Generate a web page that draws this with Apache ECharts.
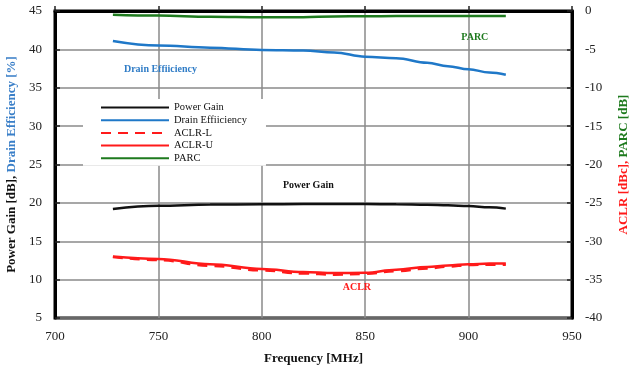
<!DOCTYPE html>
<html><head><meta charset="utf-8">
<script src="https://cdn.jsdelivr.net/npm/echarts@6/dist/echarts.min.js"></script>
<style>html,body{margin:0;padding:0;background:#fff}#c{width:630px;height:369px}</style>
</head><body><div id="c"></div>
<script>
const freq = [728, 750, 775, 800, 820, 835, 850, 865, 880, 890, 900, 910, 918];
const powerGain = [19.2, 19.62, 19.78, 19.82, 19.84, 19.85, 19.85, 19.82, 19.75, 19.68, 19.58, 19.42, 19.25];
const drainEff = [41.1, 40.5, 40.22, 39.92, 39.85, 39.6, 39.05, 38.85, 38.25, 37.8, 37.4, 37.0, 36.7];
const aclrL = [-32.05, -32.45, -33.2, -33.8, -34.2, -34.35, -34.25, -33.9, -33.55, -33.3, -33.1, -33.05, -33.05];
const aclrU = [-32.0, -32.3, -33.0, -33.6, -34.0, -34.15, -34.1, -33.7, -33.35, -33.15, -33.0, -32.9, -32.9];
const parc = [-0.48, -0.6, -0.75, -0.82, -0.8, -0.72, -0.68, -0.66, -0.65, -0.65, -0.65, -0.65, -0.65];
const xTicks = [700, 750, 800, 850, 900, 950];
const leftTicks = [5, 45, 5];   // min, max, step
const rightTicks = [-40, 0, 5];
const annotations = [
  {text: 'Drain Effiiciency', f: 751, v: 37.45, axis: 0, color: '#2f7cc6'},
  {text: 'PARC', f: 903, v: -3.5, axis: 1, color: '#1e7a1e'},
  {text: 'Power Gain', f: 822.5, v: 22.3, axis: 0, color: '#111111'},
  {text: 'ACLR', f: 846, v: -36.0, axis: 1, color: '#ff1a1a'}
];

const FONT = 'Liberation Serif';
const zip = (a) => freq.map((f, i) => [f, a[i]]);
const chart = echarts.init(document.getElementById('c'));
const mk = (name, data, color, yIdx, type) => ({
  name, type: 'line', yAxisIndex: yIdx, data: zip(data), symbol: 'none',
  smooth: 0.4, smoothMonotone: 'x',
  lineStyle: {color, width: 2.5, type: type || 'solid'}, itemStyle: {color},
  z: 3
});
chart.setOption({
  animation: false,
  grid: {left: 55, right: 58, top: 11, bottom: 51, show: true, borderColor: '#000', borderWidth: 3,
    containLabel: false, outerBoundsMode: 'none'},
  legend: {
    orient: 'vertical', left: 83, top: 99, padding: [3, 19, 2, 17],
    backgroundColor: '#fff', itemWidth: 68, itemHeight: 10, itemGap: 1.7,
    itemStyle: {opacity: 0},
    textStyle: {fontFamily: FONT, fontSize: 10.5, color: '#111', lineHeight: 10},
    data: ['Power Gain', 'Drain Effiiciency', 'ACLR-L', 'ACLR-U', 'PARC'],
    z: 10
  },
  xAxis: {
    type: 'value', min: xTicks[0], max: xTicks[xTicks.length - 1], interval: 50,
    name: 'Frequency [MHz]', nameLocation: 'middle', nameGap: 34,
    nameTextStyle: {fontFamily: FONT, fontSize: 13, fontWeight: 'bold', color: '#111'},
    axisLine: {lineStyle: {color: '#000', width: 3}},
    axisTick: {inside: true, length: 5, lineStyle: {color: '#222', width: 1.5}},
    axisLabel: {fontFamily: FONT, fontSize: 13, color: '#222', margin: 12},
    splitLine: {show: true, lineStyle: {color: '#8a8a8a', width: 1.5}}
  },
  yAxis: [{
    type: 'value', min: leftTicks[0], max: leftTicks[1], interval: leftTicks[2], position: 'left',
    name: '{a|Power Gain [dB], }{b|Drain Efficiency [%]}', nameLocation: 'middle', nameGap: 37, nameRotate: 90,
    nameTextStyle: {rich: {
      a: {fontFamily: FONT, fontSize: 13, fontWeight: 'bold', color: '#111'},
      b: {fontFamily: FONT, fontSize: 13, fontWeight: 'bold', color: '#3a7fc8'}
    }},
    axisLine: {lineStyle: {color: '#000', width: 3}},
    axisTick: {inside: true, length: 5, lineStyle: {color: '#222', width: 1.5}},
    axisLabel: {fontFamily: FONT, fontSize: 13, color: '#222', margin: 13},
    splitLine: {show: true, lineStyle: {color: '#8a8a8a', width: 1.5}}
  }, {
    type: 'value', min: rightTicks[0], max: rightTicks[1], interval: rightTicks[2], position: 'right',
    name: '{a|ACLR [dBc], }{b|PARC [dB]}', nameLocation: 'middle', nameGap: 45, nameRotate: 90,
    nameTextStyle: {rich: {
      a: {fontFamily: FONT, fontSize: 13, fontWeight: 'bold', color: '#ff1a1a'},
      b: {fontFamily: FONT, fontSize: 13, fontWeight: 'bold', color: '#1e7a1e'}
    }},
    axisLine: {lineStyle: {color: '#000', width: 3}},
    axisTick: {inside: true, length: 5, lineStyle: {color: '#222', width: 1.5}},
    axisLabel: {fontFamily: FONT, fontSize: 13, color: '#222', margin: 13},
    splitLine: {show: false}
  }],
  series: [
    mk('Power Gain', powerGain, '#111111', 0),
    mk('Drain Effiiciency', drainEff, '#1f78c8', 0),
    mk('ACLR-L', aclrL, '#ff1a1a', 1, [10, 7]),
    mk('ACLR-U', aclrU, '#ff1a1a', 1),
    mk('PARC', parc, '#1e7a1e', 1)
  ]
});
chart.setOption({
  graphic: annotations.map(a => {
    const p = chart.convertToPixel({xAxisIndex: 0, yAxisIndex: a.axis}, [a.f, a.v]);
    return {type: 'text', x: p[0], y: p[1], z: 20,
      style: {text: a.text, fill: a.color, font: 'bold 10px "Liberation Serif"', align: 'center', verticalAlign: 'middle'}};
  })
});
</script></body></html>
